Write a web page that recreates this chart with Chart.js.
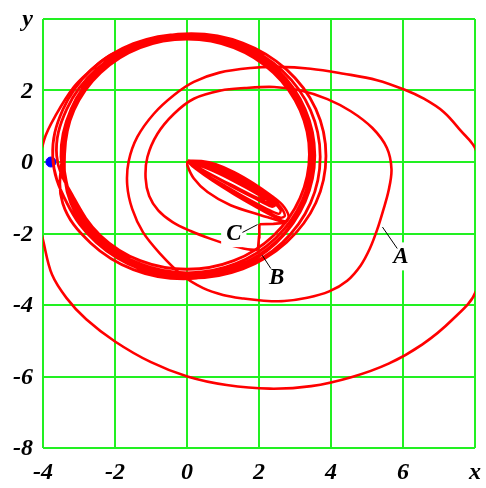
<!DOCTYPE html>
<html>
<head>
<meta charset="utf-8">
<script src="https://cdn.jsdelivr.net/npm/chart.js@4.4.0/dist/chart.umd.min.js"></script>
<style>
  html, body { margin: 0; padding: 0; background: #fff; }
  #wrap { width: 486px; height: 488px; }
</style>
</head>
<body>
<div id="wrap"><canvas id="phase" width="486" height="488"></canvas></div>
<script>
// Axis ticks (the last tick of each axis carries the axis name)
const xTicks = [-4, -2, 0, 2, 4, 6, 8];
const yTicks = [-8, -6, -4, -2, 0, 2, 4];

// Attractor band: neighbouring turns of the settled orbit, chained
const bandTurns = [
  [-3.49, 0.18], [-3.22, 1.48], [-2.46, 2.57], [-1.32, 3.30], [0.03, 3.56], [1.38, 3.30], [2.52, 2.57], [3.28, 1.48],
  [3.55, 0.18], [3.28, -1.12], [2.52, -2.21], [1.38, -2.94], [0.03, -3.20], [-1.32, -2.94], [-2.46, -2.21], [-3.22, -1.12],
  [-3.43, 0.20], [-3.17, 1.46], [-2.42, 2.53], [-1.30, 3.25], [0.02, 3.50], [1.34, 3.25], [2.46, 2.53], [3.21, 1.46],
  [3.47, 0.20], [3.21, -1.06], [2.46, -2.13], [1.34, -2.85], [0.02, -3.10], [-1.30, -2.85], [-2.42, -2.13], [-3.17, -1.06],
  [-3.50, 0.15], [-3.23, 1.45], [-2.45, 2.55], [-1.28, 3.29], [0.10, 3.55], [1.48, 3.29], [2.65, 2.55], [3.43, 1.45],
  [3.70, 0.15], [3.43, -1.15], [2.65, -2.25], [1.48, -2.99], [0.10, -3.25], [-1.28, -2.99], [-2.45, -2.25], [-3.23, -1.15],
  [-3.40, 0.22], [-3.14, 1.45], [-2.40, 2.50], [-1.30, 3.20], [0.00, 3.44], [1.30, 3.20], [2.40, 2.50], [3.14, 1.45],
  [3.40, 0.22], [3.14, -1.01], [2.40, -2.06], [1.30, -2.76], [0.00, -3.00], [-1.30, -2.76], [-2.40, -2.06], [-3.14, -1.01],
  [-3.62, 0.17], [-3.34, 1.48], [-2.52, 2.59], [-1.31, 3.33], [0.12, 3.59], [1.55, 3.33], [2.76, 2.59], [3.58, 1.48],
  [3.86, 0.17], [3.58, -1.14], [2.76, -2.25], [1.55, -2.99], [0.12, -3.25], [-1.31, -2.99], [-2.52, -2.25], [-3.34, -1.14],
  [-3.73, 0.15], [-3.45, 1.46], [-2.67, 2.57], [-1.49, 3.31], [-0.10, 3.57], [1.29, 3.31], [2.47, 2.57], [3.25, 1.46],
  [3.53, 0.15], [3.25, -1.16], [2.47, -2.27], [1.29, -3.01], [-0.10, -3.27], [-1.49, -3.01], [-2.67, -2.27], [-3.45, -1.16],
  [-3.46, 0.18], [-3.19, 1.46], [-2.44, 2.55], [-1.30, 3.28], [0.04, 3.53], [1.38, 3.28], [2.52, 2.55], [3.27, 1.46],
  [3.54, 0.18], [3.27, -1.10], [2.52, -2.19], [1.38, -2.92], [0.04, -3.17], [-1.30, -2.92], [-2.44, -2.19], [-3.19, -1.10],
  [-3.48, 0.17]
];

// Long transient: big outer swing, outer and inner loops, down to the corner at C
const transientPath = [
  [-0.6, 3.45], [-1.6, 3.2], [-2.21, 2.94], [-2.68, 2.56], [-3.14, 2.10], [-3.62, 1.35],
  [-3.97, 0.61], [-4.25, -0.85], [-3.97, -2.31], [-3.75, -3.15], [-3.35, -3.80],
  [-2.80, -4.40], [-2.00, -5.02], [-1.00, -5.60], [0.01, -6.00], [1.10, -6.24],
  [2.30, -6.34], [3.45, -6.27], [4.56, -6.02], [5.60, -5.64], [6.54, -5.10],
  [7.36, -4.42], [8.03, -3.61], [8.45, -1.60], [8.03, 0.33], [7.59, 0.89], [7.13, 1.40],
  [6.58, 1.77], [6.05, 2.02], [5.28, 2.29], [4.35, 2.47], [3.43, 2.61], [2.50, 2.66],
  [1.77, 2.63], [0.90, 2.50], [0.19, 2.24], [-0.35, 1.88], [-0.92, 1.35], [-1.38, 0.70],
  [-1.62, 0.02], [-1.66, -0.65], [-1.52, -1.32], [-1.22, -1.97], [-0.75, -2.56],
  [-0.13, -3.17], [0.45, -3.53], [1.00, -3.72], [1.57, -3.82], [2.13, -3.88],
  [2.70, -3.89], [3.34, -3.80], [3.95, -3.62], [4.45, -3.32], [4.82, -2.90],
  [5.08, -2.42], [5.28, -1.90], [5.45, -1.35], [5.60, -0.80], [5.68, -0.20],
  [5.55, 0.40], [5.15, 0.95], [4.55, 1.42], [3.90, 1.76], [3.16, 2.00], [2.42, 2.10],
  [1.60, 2.07], [0.94, 2.00], [0.19, 1.77], [-0.36, 1.35], [-0.82, 0.79], [-1.10, 0.14],
  [-1.15, -0.45], [-1.05, -0.95], [-0.80, -1.35], [-0.40, -1.68], [0.10, -1.93],
  [0.66, -2.15], [1.12, -2.30], [1.68, -2.44], [1.97, -2.46]
];

// Short straight pieces at C: up to the corner, across to the spindle tip
const cRise = [[1.97, -2.46], [2.00, -2.10], [2.01, -1.74]];
const cRun = [[2.01, -1.74], [2.40, -1.73], [2.76, -1.70]];

// Lower edge back to the origin, then the spindle turns
const spindleReturn = [
  [2.76, -1.70], [2.05, -1.49], [1.21, -1.21], [0.57, -0.84], [0.19, -0.46], [0.01, -0.09], [0.02, 0.04]
];
const spindleTurns = [
  [0.02, 0.04], [0.40, 0.03], [0.80, -0.06], [1.31, -0.28], [1.86, -0.60], [2.33, -0.93],
  [2.65, -1.20], [2.82, -1.50], [2.76, -1.66], [2.45, -1.55], [1.90, -1.25], [1.30, -0.90],
  [0.70, -0.52], [0.25, -0.20], [0.05, -0.02],
  [0.06, 0.02], [0.50, -0.03], [1.00, -0.20], [1.55, -0.47], [2.10, -0.82], [2.55, -1.20],
  [2.72, -1.50], [2.60, -1.56], [2.25, -1.40], [1.70, -1.10], [1.10, -0.74], [0.50, -0.36], [0.08, -0.03],
  [0.08, 0.00], [0.60, -0.10], [1.20, -0.35], [1.80, -0.68], [2.30, -1.02], [2.60, -1.35],
  [2.55, -1.45], [2.20, -1.30], [1.60, -0.98], [1.00, -0.63], [0.40, -0.27], [0.10, -0.04],
  [0.10, -0.02], [0.70, -0.20], [1.40, -0.52], [2.00, -0.88], [2.45, -1.20], [2.35, -1.25],
  [1.85, -1.00], [1.20, -0.66], [0.60, -0.32], [0.15, -0.06],
  [0.12, -0.02], [0.80, -0.26], [1.50, -0.62], [2.10, -0.98], [2.38, -1.18], [2.10, -1.08],
  [1.50, -0.78], [0.90, -0.47], [0.30, -0.14],
  [0.15, -0.03], [0.90, -0.33], [1.60, -0.70], [2.15, -1.03], [2.00, -1.02], [1.40, -0.72],
  [0.80, -0.42], [0.20, -0.08]
];

// Equilibrium marker
const equilibrium = [[-3.78, 0.0]];

// Curve tags with leader lines (data coordinates)
const curveTags = [
  { text: 'A', at: [5.94, -2.64], from: [5.84, -2.42], to: [5.43, -1.82] },
  { text: 'B', at: [2.49, -3.23], from: [2.33, -2.98], to: [2.09, -2.61] },
  { text: 'C', at: [1.30, -1.99], from: [1.54, -1.97], to: [1.96, -1.75] }
];

const RED = '#ff0000';
const GRID = '#22f022';
const tickFont = { family: '"Liberation Serif", "Times New Roman", serif', size: 24, weight: 'bold', style: 'italic' };

const toXY = pts => pts.map(([x, y]) => ({ x, y }));

function curve(points, tension, width) {
  return {
    data: toXY(points),
    showLine: true,
    borderColor: RED,
    borderWidth: width || 3,
    pointRadius: 0,
    tension: tension,
    fill: false
  };
}

const tagPlugin = {
  id: 'curveTags',
  afterDatasetsDraw(chart) {
    const { ctx, scales } = chart;
    const px = v => scales.x.getPixelForValue(v);
    const py = v => scales.y.getPixelForValue(v);
    ctx.save();
    ctx.font = 'italic bold 23px "Liberation Serif", serif';
    ctx.textAlign = 'center';
    ctx.textBaseline = 'middle';
    curveTags.forEach(tag => {
      const cx = px(tag.at[0]);
      const cy = py(tag.at[1]);
      const w = ctx.measureText(tag.text).width;
      ctx.fillStyle = '#fff';
      ctx.fillRect(cx - w / 2 - 5, cy - 14, w + 10, 28);
      ctx.fillStyle = '#000';
      ctx.fillText(tag.text, cx, cy + 1);
      ctx.strokeStyle = '#000';
      ctx.lineWidth = 1;
      ctx.beginPath();
      ctx.moveTo(px(tag.from[0]), py(tag.from[1]));
      ctx.lineTo(px(tag.to[0]), py(tag.to[1]));
      ctx.stroke();
    });
    ctx.restore();
  }
};

new Chart(document.getElementById('phase'), {
  type: 'scatter',
  data: {
    datasets: [
      curve(bandTurns, 0.38, 2.8),
      curve(transientPath, 0.35, 2.6),
      curve(cRise, 0, 2.6),
      curve(cRun, 0, 2.6),
      curve(spindleReturn, 0.3, 2.6),
      curve(spindleTurns, 0.3, 2.4),
      {
        data: toXY(equilibrium),
        pointRadius: 5,
        pointBackgroundColor: '#0000ff',
        pointBorderColor: '#0000ff',
        showLine: false
      }
    ]
  },
  options: {
    responsive: false,
    animation: false,
    devicePixelRatio: 1,
    elements: { line: { capBezierPoints: false } },
    layout: { padding: { top: 19, right: 11, left: 0, bottom: 0 } },
    plugins: { legend: { display: false }, tooltip: { enabled: false } },
    scales: {
      x: {
        type: 'linear',
        min: -4,
        max: 8,
        afterBuildTicks: axis => { axis.ticks = xTicks.map(v => ({ value: v })); },
        // fixed axis band so the plot area does not move with label widths
        afterFit: axis => {
          axis.height = 40;
          axis.paddingLeft = 0;
          axis.paddingRight = 0;
        },
        ticks: {
          callback: v => (v === 8 ? 'x' : String(v)),
          font: tickFont,
          color: '#000',
          padding: 10,
          maxRotation: 0,
          autoSkip: false
        },
        grid: { color: GRID, lineWidth: 2, drawTicks: false },
        border: { display: false }
      },
      y: {
        type: 'linear',
        min: -8,
        max: 4,
        afterBuildTicks: axis => { axis.ticks = yTicks.map(v => ({ value: v })); },
        afterFit: axis => {
          axis.width = 43;
          axis.paddingTop = 0;
          axis.paddingBottom = 0;
        },
        ticks: {
          callback: v => (v === 4 ? 'y' : String(v)),
          font: tickFont,
          color: '#000',
          padding: 10,
          labelOffset: 1,
          autoSkip: false
        },
        grid: { color: GRID, lineWidth: 2, drawTicks: false },
        border: { display: false }
      }
    }
  },
  plugins: [tagPlugin]
});
</script>
</body>
</html>
